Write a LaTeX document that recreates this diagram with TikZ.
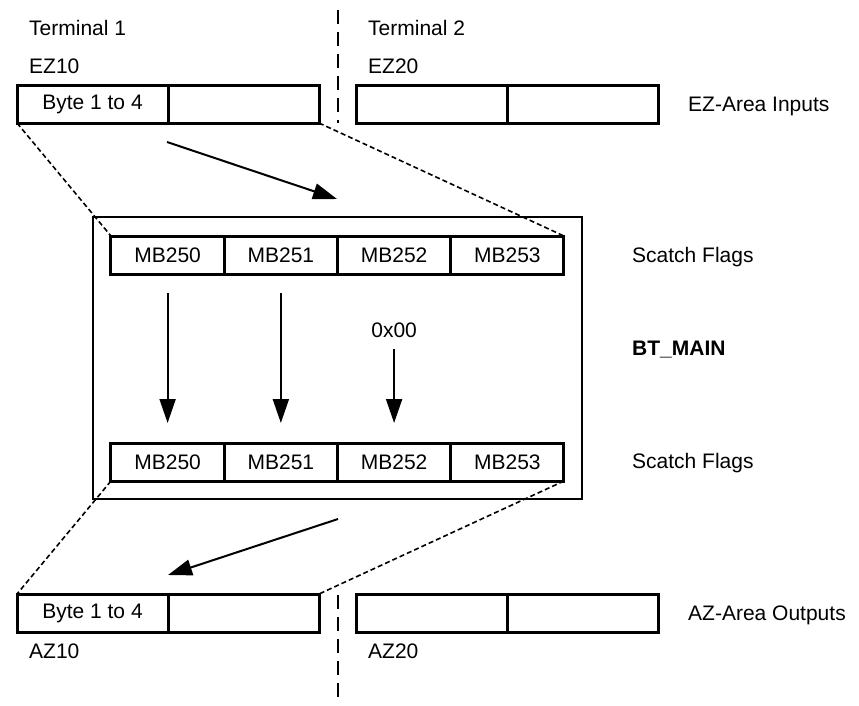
\documentclass[tikz,border=0pt]{standalone}
\usepackage{fontspec}
\setmainfont{Liberation Sans}
\usetikzlibrary{arrows.meta}

\begin{document}
\begin{tikzpicture}[x=1pt,y=-1pt,font=\fontsize{21}{25}\selectfont,
	arr/.style={-{Triangle[length=24pt,width=16pt]},line width=2pt},
	bytebox/.style={draw,line width=3pt,minimum width=151pt,minimum height=38pt,inner sep=0pt,outer sep=0pt},
	flagbox/.style={bytebox,minimum width=113.25pt},
	zoomline/.style={line width=1.6pt,dash pattern=on 5pt off 3pt},
	sepline/.style={line width=1.6pt,dash pattern=on 14pt off 8pt},
	txt/.style={anchor=base west,inner sep=0pt}]
	\useasboundingbox (0,0) rectangle (859,705);
	
	% terminal separation
	\coordinate (sepA) at (338,10);
	\coordinate (sepB) at (338,123);
	\coordinate (sepC) at (338,595);
	\coordinate (sepD) at (338,705);
	\draw[sepline] (sepA) -- (sepB);
	\draw[sepline] (sepC) -- (sepD);
	
	\node[txt] (term1) at (29,35) {Terminal 1};
	\node[txt] (term2) at (368,35) {Terminal 2};
	\node[txt] (ez10) at (29,73) {EZ10};
	\node[txt] (ez20) at (368,73) {EZ20};
	\node[txt] (az10) at (29,658) {AZ10};
	\node[txt] (az20) at (368,658) {AZ20};
	
	% input / output areas
	\node[bytebox] (ez1) at (92.5,104) {Byte 1 to 4};
	\node[bytebox] (ez1b) at (243.5,104) {};
	\node[bytebox] (ez2) at (431.5,104) {};
	\node[bytebox] (ez2b) at (582.5,104) {};
	\node[bytebox] (az1) at (92.5,613) {Byte 1 to 4};
	\node[bytebox] (az1b) at (243.5,613) {};
	\node[bytebox] (az2) at (431.5,613) {};
	\node[bytebox] (az2b) at (582.5,613) {};
	
	\node[txt] (ezlab) at (688,111) {EZ-Area Inputs};
	\node[txt] (azlab) at (688,620) {AZ-Area Outputs};
	
	% BT_MAIN
	\node[draw,line width=1.5pt,minimum width=489pt,minimum height=282pt,inner sep=0pt,outer sep=0pt] (btmain) at (337.5,358) {};
	\foreach \i/\n in {1/250,2/251,3/252,4/253}{
		\node[flagbox] (mt\i) at (54.35+113.25*\i,255) {MB\n};
		\node[flagbox] (mb\i) at (54.35+113.25*\i,462) {MB\n};
	}
	\node[txt] (flagtop) at (632,262) {Scatch Flags};
	\node[txt,font=\fontsize{21}{25}\selectfont\bfseries] (btlab) at (632,355) {BT\_MAIN};
	\node[txt] (flagbot) at (632,468) {Scatch Flags};
	
	\draw[arr,shorten <=19pt,shorten >=20pt] (mt1) -- (mb1);
	\draw[arr,shorten <=19pt,shorten >=20pt] (mt2) -- (mb2);
	\node[inner sep=0pt,anchor=base] (zero) at (394.1,337) {0x00};
	\draw[arr,shorten <=12pt,shorten >=20pt] (zero) -- (mb3);
	
	% copy in / copy out
	\draw[zoomline] (ez1.south west) -- (mt1.north west);
	\draw[zoomline] (ez1b.south east) -- (mt4.north east);
	\draw[zoomline] (mb1.south west) -- (az1.north west);
	\draw[zoomline] (mb4.south east) -- (az1b.north east);
	
	\coordinate (inA) at (167,142);
	\coordinate (inB) at (337,199);
	\coordinate (outA) at (338,519);
	\coordinate (outB) at (168,575);
	\draw[arr] (inA) -- (inB);
	\draw[arr] (outA) -- (outB);
\end{tikzpicture}
\end{document}
